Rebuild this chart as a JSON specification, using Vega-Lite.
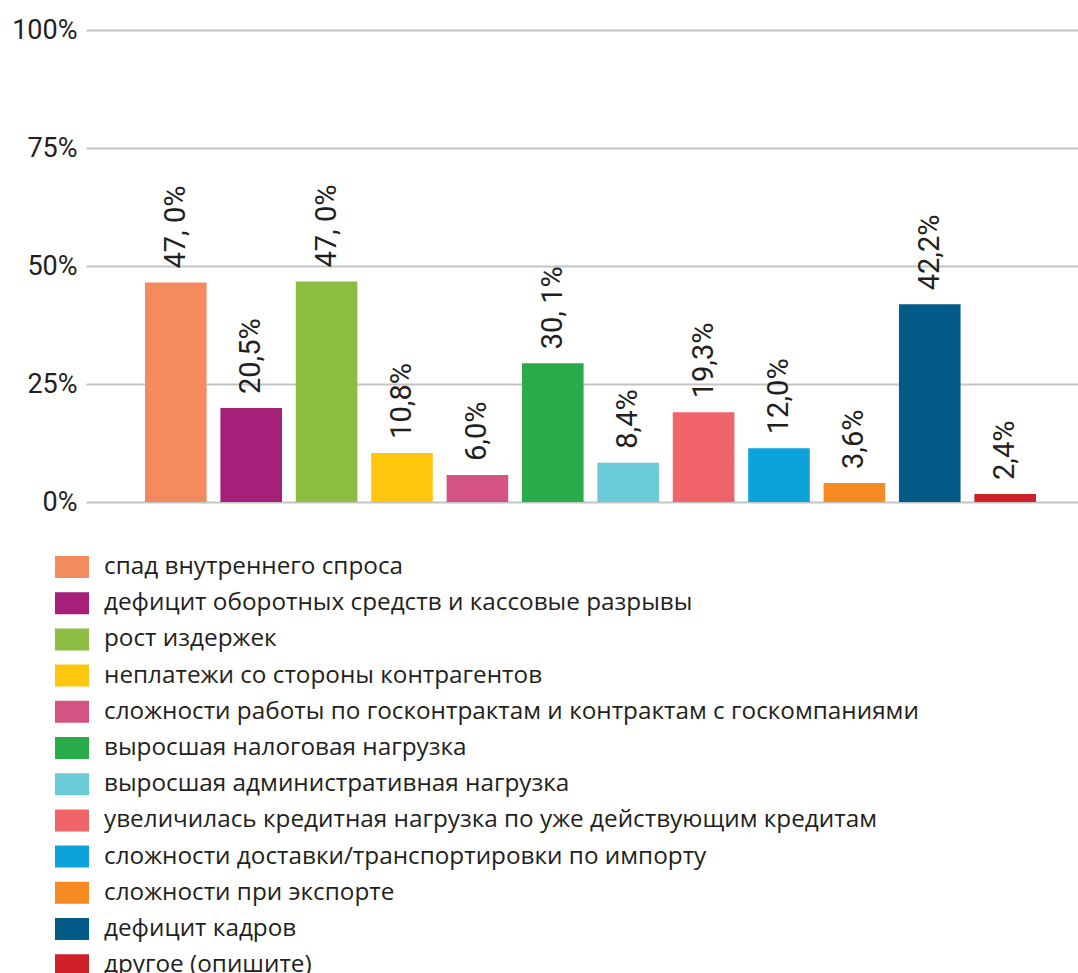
{
  "$schema": "https://vega.github.io/schema/vega-lite/v6.json",
  "width": 992,
  "height": 472,
  "autosize": {"type": "none"},
  "padding": {"left": 86, "top": 30, "right": 0, "bottom": 471},
  "background": "white",
  "config": {"view": {"stroke": null}, "font": "Roboto"},
  "data": {
    "values": [
      {"cause": "спад внутреннего спроса", "value": 46.5, "label": "47, 0%"},
      {"cause": "дефицит оборотных средств и кассовые разрывы", "value": 19.9, "label": "20,5%"},
      {"cause": "рост издержек", "value": 46.7, "label": "47, 0%"},
      {"cause": "неплатежи со стороны контрагентов", "value": 10.4, "label": "10,8%"},
      {"cause": "сложности работы по госконтрактам и контрактам с госкомпаниями", "value": 5.7, "label": "6,0%"},
      {"cause": "выросшая налоговая нагрузка", "value": 29.4, "label": "30, 1%"},
      {"cause": "выросшая административная нагрузка", "value": 8.3, "label": "8,4%"},
      {"cause": "увеличилась кредитная нагрузка по уже действующим кредитам", "value": 19.0, "label": "19,3%"},
      {"cause": "сложности доставки/транспортировки по импорту", "value": 11.4, "label": "12,0%"},
      {"cause": "сложности при экспорте", "value": 4.0, "label": "3,6%"},
      {"cause": "дефицит кадров", "value": 41.9, "label": "42,2%"},
      {"cause": "другое (опишите)", "value": 1.7, "label": "2,4%"}
    ]
  },
  "encoding": {
    "x": {
      "field": "cause",
      "type": "nominal",
      "sort": null,
      "axis": null,
      "scale": {"paddingInner": 0.183, "paddingOuter": 0.67, "align": 0.584}
    },
    "y": {
      "field": "value",
      "type": "quantitative",
      "scale": {"domain": [0, 100]},
      "axis": {
        "values": [0, 25, 50, 75, 100],
        "labelExpr": "datum.value + '%'",
        "domain": false,
        "ticks": false,
        "title": null,
        "labelFont": "Roboto",
        "labelFontSize": 27,
        "labelColor": "#231f20",
        "labelPadding": 9,
        "gridColor": "#c4c4c4",
        "gridWidth": 2
      }
    }
  },
  "layer": [
    {
      "mark": {"type": "bar"},
      "encoding": {
        "color": {
          "field": "cause",
          "type": "nominal",
          "scale": {
            "domain": [
              "спад внутреннего спроса",
              "дефицит оборотных средств и кассовые разрывы",
              "рост издержек",
              "неплатежи со стороны контрагентов",
              "сложности работы по госконтрактам и контрактам с госкомпаниями",
              "выросшая налоговая нагрузка",
              "выросшая административная нагрузка",
              "увеличилась кредитная нагрузка по уже действующим кредитам",
              "сложности доставки/транспортировки по импорту",
              "сложности при экспорте",
              "дефицит кадров",
              "другое (опишите)"
            ],
            "range": ["#F48B5E", "#A52079", "#8CBD41", "#FEC70E", "#D55383", "#29AB4A", "#6BCAD7", "#F06368", "#0BA3DA", "#F68B24", "#025A87", "#D02027"]
          },
          "legend": {
            "orient": "none",
            "legendX": -31,
            "legendY": 520,
            "title": null,
            "direction": "vertical",
            "symbolType": "M-1,-0.647L1,-0.647L1,0.647L-1,0.647Z",
            "symbolSize": 1156,
            "symbolStrokeWidth": 0,
            "symbolOpacity": 1,
            "labelFont": "Open Sans",
            "labelFontSize": 24.3,
            "labelFontWeight": 500,
            "labelColor": "#231f20",
            "labelOffset": 15,
            "rowPadding": 6.2,
            "labelLimit": 1000
          }
        }
      }
    },
    {
      "mark": {"type": "text", "angle": 270, "align": "left", "baseline": "middle", "dx": 14, "fontSize": 29, "font": "Roboto", "color": "#231f20"},
      "encoding": {"text": {"field": "label"}}
    }
  ]
}
